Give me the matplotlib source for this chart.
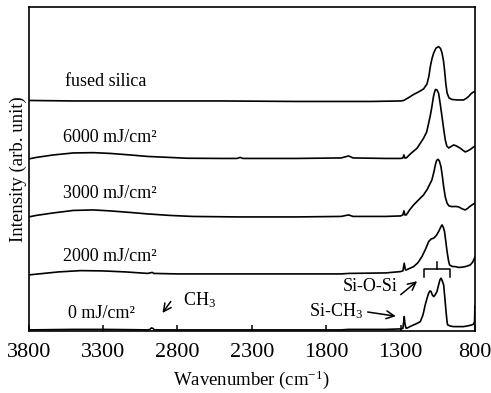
import matplotlib
matplotlib.use("Agg")
import matplotlib.pyplot as plt

plt.rcParams['font.family'] = ['Liberation Serif', 'DejaVu Serif']
plt.rcParams['mathtext.fontset'] = 'custom'
plt.rcParams['mathtext.rm'] = 'Liberation Serif'
plt.rcParams['mathtext.it'] = 'Liberation Serif:italic'

# ---------------- data ----------------
wn_fused = [3800, 3500, 3000, 2500, 2000, 1500, 1300, 1280, 1250, 1213, 1180, 1146, 1123, 1110,
            1101, 1090, 1078, 1062, 1045, 1032, 1022, 1012, 1005, 997, 988, 975, 955, 920, 877,
            860, 843, 825, 810, 800]
y_fused = [230.5, 230, 230, 230, 229.5, 229.5, 230, 230.5, 233, 236.5, 239, 242, 247, 255,
           264, 272, 278, 283, 284.3, 282.5, 278, 270, 261, 248, 238, 233, 231.5, 231, 231,
           232.5, 234.5, 237.5, 239, 239]

wn_6000 = [3800, 3750, 3635, 3500, 3365, 3250, 3119, 3000, 2850, 2737, 2500, 2400, 2379, 2360,
           2000, 1700, 1650, 1620, 1400, 1300, 1285, 1278, 1272, 1262, 1235, 1190, 1146, 1125,
           1112, 1100, 1090, 1080, 1074, 1066, 1056, 1045, 1035, 1022, 1010, 1000, 990, 977,
           960, 944, 925, 899, 880, 866, 850, 832, 815, 800]
y_6000 = [172, 173.5, 176, 178, 178.3, 177.5, 176, 174.5, 173.5, 172.7, 172.5, 172.5, 173.5, 172.5,
          172.5, 173, 175, 173, 172.5, 172.5, 173, 176, 173, 173, 177, 182.7, 192.7, 199,
          207.7, 216, 224.3, 234, 238, 241.5, 241, 237.7, 228, 214.3, 201, 191, 185, 183,
          184.5, 186, 185, 182.7, 180.5, 179, 180, 181.5, 183.5, 184.5]

wn_3000 = [3800, 3750, 3635, 3500, 3365, 3250, 3119, 3000, 2850, 2700, 2400, 2000, 1700, 1650,
           1620, 1400, 1300, 1285, 1278, 1271, 1262, 1240, 1213, 1180, 1146, 1120, 1090, 1075,
           1067, 1058, 1049, 1040, 1029, 1020, 1011, 1000, 988, 975, 955, 930, 910, 885, 866,
           850, 835, 810, 800]
y_3000 = [114, 115.5, 118, 120.5, 121, 120, 118.5, 117, 115.5, 114.5, 114, 114, 114.5, 116,
          114.5, 114.5, 115, 116, 120, 116, 116, 121, 126, 131, 136, 142, 151, 160,
          166, 170.5, 171.7, 170, 164.3, 155, 144.3, 134, 127.7, 125, 124.3, 124.5, 124, 122, 121,
          122.5, 124.5, 127, 128]

wn_2000 = [3800, 3700, 3600, 3450, 3300, 3150, 3000, 2970, 2960, 2800, 2500, 2000, 1700, 1650,
           1400, 1303, 1285, 1276, 1268, 1262, 1240, 1213, 1185, 1157, 1135, 1112, 1095, 1078,
           1060, 1045, 1030, 1022, 1013, 1005, 997, 988, 978, 971, 955, 933, 910, 888, 860,
           832, 815, 800]
y_2000 = [56, 57.5, 59, 60.3, 60, 59, 57.5, 58.5, 57.5, 57, 57, 57, 57, 57.5,
          58, 59.3, 60, 67.7, 61, 61, 62.5, 64.3, 68, 74.3, 81, 89.3, 92, 92.7,
          95.5, 99.3, 104, 106, 103.5, 99.3, 90, 79.3, 70, 66, 64.5, 64.3, 63.5, 63.7, 64.5,
          66, 69, 74]

wn_0 = [3800, 3500, 3300, 3100, 3000, 2985, 2975, 2965, 2955, 2800, 2500, 2000, 1700, 1650,
        1400, 1300, 1285, 1279, 1276, 1272, 1265, 1258, 1235, 1213, 1190, 1168, 1150, 1135,
        1122, 1112, 1103, 1096, 1087, 1078, 1068, 1056, 1045, 1036, 1029, 1020, 1011, 1003,
        995, 988, 984, 965, 944, 910, 877, 850, 821, 808, 803, 801]
y_0 = [1, 1.5, 1.5, 1.2, 1, 1.5, 3, 2.5, 1, 1, 1, 1, 1, 1.5,
       1.5, 2, 2.5, 10, 14.3, 8, 3, 2.7, 4.5, 6, 7.5, 9.3, 16, 26,
       33, 37.7, 40, 39.5, 36, 34.3, 36, 39.3, 46, 51, 52.7, 50, 46, 33,
       19.3, 9, 6, 4.8, 4.3, 4.3, 4.3, 5, 6, 7, 10, 25]

series = [
    (wn_fused, y_fused, "fused silica", 3556, 245),
    (wn_6000, y_6000, "6000 mJ/cm²", 3567, 189),
    (wn_3000, y_3000, "3000 mJ/cm²", 3567, 133.3),
    (wn_2000, y_2000, "2000 mJ/cm²", 3567, 70),
    (wn_0, y_0, "0 mJ/cm²", 3538, 12.7),
]

xticks = [3800, 3300, 2800, 2300, 1800, 1300, 800]

# ---------------- figure ----------------
fig = plt.figure(figsize=(4.91, 3.93), dpi=100)
ax = fig.add_axes([0.0585, 0.158, 0.909, 0.825])

for wn, y, label, lx, ly in series:
    ax.plot(wn, y, color='black', lw=1.2)
    ax.text(lx, ly, label, fontsize=13, ha='left', va='baseline')

# bracket for Si-O-Si
ax.plot([1146, 1146, 971, 971], [53.5, 61.5, 61.5, 53.5], color='black', lw=1.1)
ax.plot([1056, 1056], [61.5, 69], color='black', lw=1.1)

# annotations
ax.text(1320, 40, "Si-O-Si", fontsize=13, ha='right', va='baseline')
ax.annotate("", xy=(1175, 51.5), xytext=(1314, 34.5),
            arrowprops=dict(arrowstyle='->', lw=1.1, color='black', mutation_scale=14))
ax.text(1552, 14.3, "Si-CH$_3$", fontsize=13, ha='right', va='baseline')
ax.annotate("", xy=(1314, 14.3), xytext=(1540, 19.3),
            arrowprops=dict(arrowstyle='->', lw=1.1, color='black', mutation_scale=14))
ax.text(2764, 26, "CH$_3$", fontsize=13, ha='left', va='baseline')
ax.annotate("", xy=(2912, 15.7), xytext=(2834, 31.7),
            arrowprops=dict(arrowstyle='->', lw=1.1, color='black', mutation_scale=14))

ax.set_xlim(3800, 800)
ax.set_ylim(0, 324.3)
ax.set_xticks(xticks)
ax.set_xticklabels([str(t) for t in xticks], fontsize=16)
ax.set_yticks([])
ax.tick_params(axis='x', direction='in', length=4.5, width=1.1, pad=9, top=False)
for sp in ax.spines.values():
    sp.set_linewidth(1.2)

ax.set_xlabel("Wavenumber (cm$^{-1}$)", fontsize=13.5)
ax.xaxis.label.set_va('center')
ax.xaxis.set_label_coords(0.5, -0.151)
ax.set_ylabel("Intensity (arb. unit)", fontsize=13.5)
ax.yaxis.label.set_va('center')
ax.yaxis.set_label_coords(-0.023, 0.5)

fig.savefig("out.png", dpi=100)
